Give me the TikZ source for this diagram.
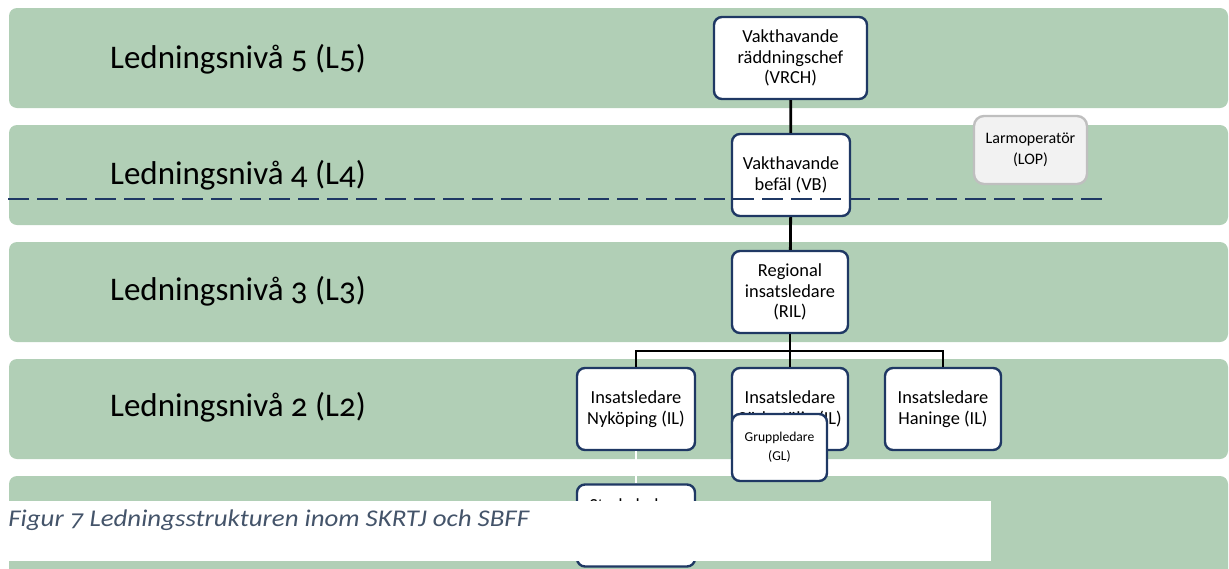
\documentclass[tikz,border=0pt]{standalone}
\usepackage{fontspec}
\setmainfont{Carlito}
\newfontfamily\lvlfont[Numbers=OldStyle]{Carlito}
\newfontfamily\capfont[Numbers=OldStyle, FakeStretch=1.12]{Carlito}
\definecolor{bandgreen}{RGB}{177,207,182}
\definecolor{navy}{RGB}{31,56,100}
\definecolor{capcol}{RGB}{68,84,106}
\definecolor{lopfill}{RGB}{242,242,242}
\definecolor{lopdraw}{RGB}{191,191,191}
\begin{document}
\begin{tikzpicture}[x=0.5pt,y=-0.5pt,
  band/.style={fill=bandgreen, rounded corners=4pt},
  orgbox/.style={draw=navy, line width=1.2pt, fill=white, rounded corners=4pt, align=center,
    font=\fontsize{9.2}{10.3}\selectfont, inner sep=0pt},
  lopbox/.style={draw=lopdraw, line width=1.2pt, fill=lopfill, rounded corners=5pt, align=center,
    font=\fontsize{8}{10.8}\selectfont, inner sep=0pt, minimum width=56.5pt, minimum height=34pt},
  conn/.style={line width=1.4pt, black},
  dashline/.style={draw=navy, line width=1.1pt, dash pattern=on 10.5pt off 4pt},
  lvl/.style={anchor=base, inner sep=0pt, font=\lvlfont\fontsize{16.5}{18}\selectfont},
]
\useasboundingbox (0,0) rectangle (1229,568);
\clip (0,0) rectangle (1229,568);
% bands
\fill[band] (9,8) rectangle (1228,108);
\fill[band] (9,125) rectangle (1228,225);
\fill[band] (9,242) rectangle (1228,342);
\fill[band] (9,359) rectangle (1228,459);
\fill[band] (9,476) rectangle (1228,610);
% level labels
\node[lvl] (l5) at (238,68.3) {Ledningsnivå 5 (L5)};
\node[lvl] (l4) at (238,184) {Ledningsnivå 4 (L4)};
\node[lvl] (l3) at (238,300.7) {Ledningsnivå 3 (L3)};
\node[lvl] (l2) at (238,416.7) {Ledningsnivå 2 (L2)};
% boxes
\node[orgbox, minimum width=76.5pt, minimum height=41pt] (vrch) at (790.5,58) {Vakthavande\\räddningschef\\(VRCH)};
\node[orgbox, minimum width=59pt, minimum height=41pt] (vb) at (791,175) {Vakthavande\\befäl (VB)};
\node[orgbox, minimum width=58pt, minimum height=41pt] (ril) at (790,292) {Regional\\insatsledare\\(RIL)};
\node[orgbox, minimum width=59pt, minimum height=41pt] (il1) at (636,409) {Insatsledare\\Nyköping (IL)};
\node[orgbox, minimum width=58pt, minimum height=41pt] (il2) at (790,409) {Insatsledare\\Södertälje (IL)};
\node[orgbox, minimum width=58pt, minimum height=41pt] (il3) at (943,409) {Insatsledare\\Haninge (IL)};
% connectors
\coordinate (hub) at (790,351);
\draw[conn] (vrch) -- (vb);
\draw[conn] (vb) -- (ril);
\draw[conn] (ril) -- (hub);
\draw[conn] (il1.north) |- (hub) -| (il3.north);
\draw[conn] (hub) -- (il2.north);
% dashed level separator
\coordinate (dl) at (8,199);
\coordinate (dr) at (1108,199);
\draw[dashline] (dl) -- (dr);
% side box
\node[lopbox] (lop) at (1030.5,150) {Larmoperatör\\(LOP)};
% group leader
\node[orgbox, font=\fontsize{6.8}{9.5}\selectfont, minimum width=47.5pt, minimum height=33.5pt] (gl) at (779.5,447.5) {Gruppledare\\(GL)};
% lower box
\node[orgbox, minimum width=59pt, minimum height=41pt] (sl) at (636,525.5) {};
\node[anchor=base, inner sep=0pt, font=\fontsize{9.2}{10.3}\selectfont] (sltext) at (636,511) {Styrkeledare};
\draw[white, line width=1pt] (il1.south) -- (sl.north);
% caption
\fill[white] (0,501) rectangle (991,561);
\node[anchor=base west, inner sep=0pt, text=capcol, font=\capfont\itshape\fontsize{12}{14}\selectfont] (cap) at (8,526) {Figur 7 Ledningsstrukturen inom SKRTJ och SBFF};
\end{tikzpicture}
\end{document}
